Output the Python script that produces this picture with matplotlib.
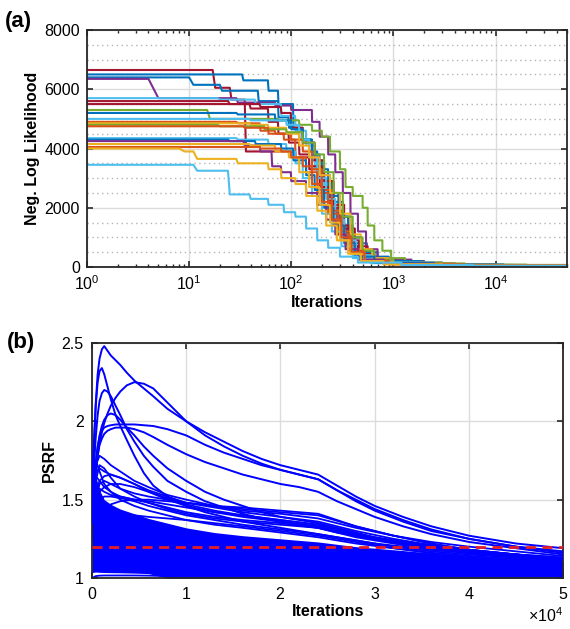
import matplotlib
matplotlib.use("Agg")
import matplotlib.pyplot as plt
from matplotlib.ticker import LogLocator, MultipleLocator, ScalarFormatter, NullFormatter

plt.rcParams['font.family'] = ['Liberation Sans', 'DejaVu Sans']
plt.rcParams['mathtext.fontset'] = 'custom'
plt.rcParams['mathtext.rm'] = 'Liberation Sans'
plt.rcParams['mathtext.it'] = 'Liberation Sans:italic'
plt.rcParams['mathtext.bf'] = 'Liberation Sans:bold'

# MATLAB default colour order
BLUE = '#0072BD'
ORANGE = '#D95319'
YELLOW = '#EDB120'
PURPLE = '#7E2F8E'
GREEN = '#77AC30'
LBLUE = '#4DBEEE'
DRED = '#A2142F'

# ---------------- panel (a): negative log likelihood per chain ----------------
# (iteration at which value changes, new value)
chain_colors = [DRED, BLUE, BLUE, PURPLE, LBLUE, DRED, DRED, GREEN, BLUE, LBLUE,
                ORANGE, YELLOW, GREEN, ORANGE, LBLUE, BLUE, PURPLE, YELLOW, ORANGE,
                YELLOW, LBLUE]
chain_steps = [
    [(1, 6650), (18, 6050), (26, 5650), (36, 3900), (110, 3700), (150, 3300), (190, 2700), (230, 2000),
     (280, 1300), (350, 700), (450, 350), (700, 150), (2000, 80), (10000, 50)],
    [(1, 6500), (34, 6300), (60, 5950), (75, 5500), (105, 4700), (130, 4300), (160, 3600), (200, 2900),
     (250, 2200), (320, 1400), (400, 800), (550, 350), (900, 150), (3000, 70), (15000, 40)],
    [(1, 6400), (11, 6150), (21, 5950), (48, 5600), (75, 5050), (95, 4700), (120, 4300), (150, 3900),
     (180, 3300), (230, 2500), (290, 1700), (360, 1000), (480, 500), (700, 200), (2000, 80), (12000, 45)],
    [(1, 6350), (5, 5700), (30, 5550), (70, 5450), (100, 5300), (160, 4900), (190, 4400),
     (230, 3800), (270, 3200), (320, 2500), (380, 1800), (450, 1200), (540, 600), (700, 250), (1500, 100),
     (8000, 50)],
    [(1, 5700), (20, 5650), (45, 5500), (80, 5100), (110, 4600), (140, 4100), (170, 3300), (210, 2600),
     (260, 1900), (320, 1100), (420, 500), (600, 200), (1500, 90), (9000, 45)],
    [(1, 5600), (25, 5500), (40, 5350), (60, 4900), (75, 4500), (95, 4200), (120, 3800), (150, 3400),
     (200, 2700), (240, 2000), (300, 1400), (370, 900), (460, 450), (650, 180), (2000, 80), (10000, 40)],
    [(1, 5500), (50, 5400), (80, 5200), (100, 4700), (130, 4200), (170, 3600), (210, 2900), (260, 2100),
     (330, 1300), (420, 700), (560, 300), (900, 120), (4000, 60)],
    [(1, 5300), (16, 5000), (75, 4950), (120, 4800), (160, 4600), (200, 4400), (240, 3900), (300, 3300),
     (340, 2700), (400, 2400), (500, 2000), (560, 1400), (650, 900), (780, 550), (950, 300), (1300, 150),
     (3000, 80), (20000, 40)],
    [(1, 5200), (30, 5150), (70, 4950), (100, 4650), (130, 4300), (160, 3800), (190, 3100), (240, 2400),
     (300, 1700), (380, 1000), (480, 500), (650, 200), (1800, 80), (12000, 40)],
    [(1, 5000), (40, 4950), (90, 4800), (120, 4300), (150, 3700), (180, 3000), (220, 2300), (270, 1600),
     (330, 900), (430, 400), (650, 150), (2500, 70)],
    [(1, 4900), (30, 4850), (50, 4600), (70, 4500), (100, 4300), (130, 3900), (160, 3300), (200, 2600),
     (250, 1900), (310, 1200), (390, 600), (520, 250), (800, 110), (3000, 55)],
    [(1, 4850), (40, 4800), (60, 4700), (90, 4500), (120, 4100), (150, 3700), (190, 3100), (240, 2500),
     (300, 1800), (380, 1100), (480, 600), (620, 300), (900, 140), (3000, 70)],
    [(1, 4800), (20, 4750), (55, 4650), (90, 4550), (130, 4200), (170, 3800), (210, 3200), (260, 2500),
     (320, 1700), (400, 1000), (500, 550), (650, 250), (1000, 120), (5000, 50)],
    [(1, 4750), (35, 4700), (60, 4500), (85, 4300), (110, 3700), (140, 3200), (180, 2500), (230, 1800),
     (290, 1100), (370, 550), (500, 220), (900, 100), (4000, 45)],
    [(1, 4350), (30, 4300), (60, 4150), (90, 3900), (110, 3500), (130, 3000), (160, 2400), (200, 1800),
     (250, 1200), (310, 700), (400, 300), (600, 130), (2000, 60)],
    [(1, 4300), (25, 4250), (45, 4150), (80, 4000), (105, 3600), (140, 3100), (170, 2600), (210, 2000),
     (260, 1400), (330, 800), (420, 350), (650, 140), (2500, 60)],
    [(1, 4250), (35, 4100), (50, 3900), (65, 3400), (80, 3200), (100, 2900), (140, 2500), (180, 2100),
     (220, 1600), (270, 1100), (340, 600), (450, 250), (800, 110), (3000, 50)],
    [(1, 4150), (40, 4100), (70, 3900), (95, 3700), (120, 3200), (150, 2700), (190, 2100), (240, 1500),
     (300, 900), (380, 450), (520, 180), (1000, 90), (4000, 45)],
    [(1, 4050), (50, 4000), (80, 3900), (100, 3700), (130, 3400), (160, 2800), (200, 2200), (250, 1600),
     (310, 1000), (390, 500), (520, 200), (900, 90), (5000, 40)],
    [(1, 4000), (9, 3900), (12, 3650), (30, 3500), (60, 3300), (80, 3000), (110, 2800), (140, 2400),
     (180, 1900), (220, 1400), (280, 900), (360, 450), (480, 200), (800, 90), (3000, 45)],
    [(1, 3450), (12, 3250), (25, 2450), (40, 2300), (60, 2100), (85, 1850), (110, 1700), (140, 1300),
     (180, 900), (230, 650), (300, 350), (450, 150), (1200, 70), (6000, 35)],
]
n_iter = 50000

# ---------------- panel (b): PSRF traces ----------------
top_x = [0, 200, 400, 600, 800, 1050, 1300, 1650, 2000, 2500, 3000, 3700, 4500, 5500, 6500, 8000,
         10000, 12000, 14000, 16000, 18000, 20000, 22000, 24000, 26000, 28000, 30000, 33000, 36000,
         40000, 45000, 50000]
psrf_top = [
    [1.55, 1.85, 2.12, 2.30, 2.40, 2.46, 2.48, 2.45, 2.42, 2.39, 2.36, 2.31, 2.26, 2.21, 2.16, 2.08,
     2.00, 1.93, 1.87, 1.81, 1.76, 1.72, 1.69, 1.66, 1.59, 1.52, 1.46, 1.39, 1.33, 1.27, 1.22, 1.19],
    [1.40, 1.55, 1.68, 1.78, 1.86, 1.93, 1.99, 2.05, 2.10, 2.15, 2.19, 2.23, 2.25, 2.24, 2.21, 2.12,
     2.00, 1.91, 1.84, 1.78, 1.73, 1.69, 1.66, 1.63, 1.56, 1.50, 1.44, 1.37, 1.31, 1.25, 1.20, 1.17],
    [1.50, 1.85, 2.10, 2.25, 2.32, 2.34, 2.30, 2.22, 2.14, 2.04, 1.97, 1.88, 1.78, 1.67, 1.59, 1.52,
     1.46, 1.42, 1.39, 1.36, 1.34, 1.32, 1.30, 1.28, 1.26, 1.24, 1.22, 1.20, 1.18, 1.16, 1.14, 1.12],
    [1.45, 1.70, 1.90, 2.04, 2.13, 2.18, 2.20, 2.19, 2.16, 2.10, 2.04, 1.95, 1.87, 1.78, 1.71, 1.62,
     1.55, 1.49, 1.45, 1.41, 1.38, 1.36, 1.34, 1.32, 1.29, 1.27, 1.25, 1.22, 1.20, 1.17, 1.15, 1.13],
    [1.40, 1.58, 1.72, 1.83, 1.91, 1.97, 2.01, 2.04, 2.05, 2.04, 2.01, 1.96, 1.91, 1.84, 1.78, 1.70,
     1.62, 1.55, 1.50, 1.46, 1.42, 1.39, 1.37, 1.35, 1.32, 1.29, 1.26, 1.23, 1.21, 1.18, 1.15, 1.13],
    [1.40, 1.60, 1.74, 1.84, 1.90, 1.94, 1.96, 1.97, 1.975, 1.98, 1.98, 1.98, 1.98, 1.975, 1.97, 1.95,
     1.91, 1.85, 1.80, 1.76, 1.72, 1.69, 1.66, 1.63, 1.56, 1.49, 1.43, 1.36, 1.30, 1.25, 1.20, 1.16],
    [1.35, 1.55, 1.68, 1.78, 1.85, 1.89, 1.92, 1.94, 1.95, 1.96, 1.96, 1.96, 1.95, 1.93, 1.90, 1.85,
     1.79, 1.74, 1.70, 1.66, 1.63, 1.60, 1.58, 1.55, 1.49, 1.44, 1.39, 1.33, 1.28, 1.23, 1.19, 1.15],
]
psrf_x = [0, 400, 800, 1300, 2000, 3000, 4500, 6000, 8000, 10000, 13000, 16000, 20000, 24000,
          28000, 32000, 36000, 40000, 45000, 50000]
psrf_mid = [
    [1.50, 1.72, 1.78, 1.76, 1.72, 1.68, 1.62, 1.58, 1.53, 1.50, 1.46, 1.43, 1.41, 1.38, 1.32, 1.27, 1.23, 1.20, 1.17, 1.14],
    [1.45, 1.68, 1.70, 1.68, 1.66, 1.64, 1.60, 1.56, 1.52, 1.48, 1.45, 1.42, 1.39, 1.36, 1.30, 1.25, 1.21, 1.18, 1.15, 1.12],
    [1.40, 1.62, 1.72, 1.70, 1.64, 1.57, 1.52, 1.48, 1.44, 1.41, 1.38, 1.36, 1.34, 1.32, 1.27, 1.23, 1.20, 1.17, 1.14, 1.12],
    [1.60, 1.75, 1.68, 1.60, 1.55, 1.52, 1.50, 1.49, 1.47, 1.45, 1.42, 1.40, 1.37, 1.34, 1.28, 1.24, 1.20, 1.17, 1.15, 1.12],
    [1.35, 1.55, 1.62, 1.65, 1.66, 1.64, 1.60, 1.55, 1.50, 1.46, 1.42, 1.39, 1.36, 1.33, 1.27, 1.23, 1.19, 1.16, 1.14, 1.12],
    [1.30, 1.48, 1.55, 1.58, 1.60, 1.60, 1.58, 1.55, 1.51, 1.47, 1.43, 1.40, 1.37, 1.34, 1.28, 1.23, 1.19, 1.16, 1.14, 1.11],
    [1.40, 1.58, 1.57, 1.55, 1.53, 1.52, 1.50, 1.48, 1.45, 1.42, 1.39, 1.37, 1.35, 1.32, 1.26, 1.22, 1.18, 1.16, 1.13, 1.11],
    [1.30, 1.45, 1.50, 1.52, 1.52, 1.51, 1.49, 1.46, 1.43, 1.40, 1.37, 1.34, 1.31, 1.28, 1.24, 1.20, 1.17, 1.15, 1.13, 1.11],
    [1.25, 1.35, 1.40, 1.44, 1.47, 1.49, 1.50, 1.50, 1.49, 1.48, 1.46, 1.44, 1.42, 1.40, 1.33, 1.27, 1.22, 1.18, 1.15, 1.12],
    [1.35, 1.50, 1.47, 1.44, 1.42, 1.41, 1.40, 1.39, 1.38, 1.37, 1.35, 1.33, 1.30, 1.27, 1.23, 1.19, 1.16, 1.14, 1.12, 1.10],
    [1.30, 1.50, 1.60, 1.62, 1.60, 1.57, 1.54, 1.52, 1.50, 1.48, 1.46, 1.45, 1.43, 1.41, 1.33, 1.27, 1.22, 1.18, 1.15, 1.12],
    [1.50, 1.65, 1.62, 1.58, 1.55, 1.50, 1.46, 1.43, 1.40, 1.37, 1.34, 1.32, 1.29, 1.26, 1.22, 1.19, 1.16, 1.14, 1.12, 1.10],
]
# dense bundle of remaining traces: lower and upper edge
band_lo = [1.035, 1.038, 1.036, 1.035, 1.034, 1.033, 1.031, 1.028, 1.0, 1.0, 1.0, 1.0, 1.0, 1.0,
           1.0, 1.0, 1.0, 1.0, 1.0, 1.0]
band_hi = [1.78, 1.65, 1.56, 1.50, 1.47, 1.44, 1.41, 1.38, 1.35, 1.32, 1.29, 1.27, 1.25, 1.23,
           1.20, 1.18, 1.16, 1.14, 1.12, 1.11]
psrf_low = [1.0, 1.012, 1.015, 1.016, 1.016, 1.016, 1.016, 1.015, 1.012, 1.01, 1.008, 1.006, 1.005,
            1.004, 1.003, 1.003, 1.002, 1.002, 1.002, 1.002]
psrf_threshold = 1.2

AX_COL = '#262626'
fig = plt.figure(figsize=(5.70, 6.29), dpi=100)
fig.set_facecolor('white')

ax1 = fig.add_axes([0.1526, 0.5755, 0.8421, 0.3768])
for col, steps in zip(chain_colors, chain_steps):
    xs, ys = [steps[0][0]], [steps[0][1]]
    for it, val in steps[1:]:
        xs += [it - 1 if it > 2 else it * 0.97, it]
        ys += [ys[-1], val]
    xs.append(n_iter)
    ys.append(ys[-1])
    ax1.plot(xs, ys, color=col, lw=1.5)
ax1.set_xscale('log')
ax1.set_xlim(1, n_iter)
ax1.set_ylim(0, 8000)
ax1.set_yticks([0, 2000, 4000, 6000, 8000])
ax1.yaxis.set_minor_locator(MultipleLocator(500))
ax1.xaxis.set_major_locator(LogLocator(base=10, numticks=10))
ax1.xaxis.set_minor_locator(LogLocator(base=10, subs=range(2, 10), numticks=10))
ax1.xaxis.set_minor_formatter(NullFormatter())
ax1.grid(True, which='major', color='#dcdcdc', lw=1.0)
ax1.grid(True, which='minor', axis='y', color='#b4b4b4', lw=1.0, ls=(0, (1, 2.5)))
ax1.set_axisbelow(True)
ax1.tick_params(which='both', direction='in', top=True, right=True, colors=AX_COL,
                labelsize=11.5, labelcolor='black')
ax1.tick_params(which='major', length=4.5, width=1.2, pad=5)
ax1.tick_params(which='minor', axis='x', length=2.5, width=1.0)
ax1.tick_params(which='minor', axis='y', length=0)
ax1.set_xlabel('Iterations', fontsize=11.5, fontweight='bold', labelpad=2)
ax1.set_ylabel('Neg. Log Likelihood', fontsize=11.5, fontweight='bold', labelpad=3)
for s in ax1.spines.values():
    s.set_color(AX_COL)
    s.set_linewidth(1.3)

ax2 = fig.add_axes([0.1614, 0.0811, 0.8266, 0.3736])
ax2.fill_between(psrf_x, band_lo, band_hi, color='#0000FF', lw=0, zorder=2)
ax2.plot(psrf_x, psrf_low, color='#0000FF', lw=1.3, zorder=2)
for tr in psrf_mid:
    ax2.plot(psrf_x, tr, color='#0000FF', lw=1.3, zorder=2)
for tr in psrf_top:
    ax2.plot(top_x, tr, color='#0000FF', lw=1.4, zorder=3)
ax2.axhline(psrf_threshold, color='#E41E26', lw=2.0, dashes=(3.6, 2.4), zorder=4)
ax2.set_xlim(0, 50000)
ax2.set_ylim(1, 2.5)
ax2.set_xticks([0, 10000, 20000, 30000, 40000, 50000])
ax2.set_yticks([1, 1.5, 2, 2.5])
ax2.set_yticklabels(['1', '1.5', '2', '2.5'])
fmt = ScalarFormatter(useMathText=True)
fmt.set_powerlimits((-3, 4))
ax2.xaxis.set_major_formatter(fmt)
ax2.xaxis.get_offset_text().set_fontsize(11.5)
ax2.grid(True, color='#dcdcdc', lw=1.0)
ax2.set_axisbelow(True)
ax2.tick_params(which='both', direction='in', top=True, right=True, colors=AX_COL,
                labelsize=11.5, labelcolor='black', length=4.5, width=1.2, pad=6)
ax2.set_xlabel('Iterations', fontsize=11.5, fontweight='bold', labelpad=1)
ax2.set_ylabel('PSRF', fontsize=11.5, fontweight='bold', labelpad=3)
for s in ax2.spines.values():
    s.set_color(AX_COL)
    s.set_linewidth(1.3)

fig.text(0.009, 0.983, '(a)', fontsize=16, fontweight='bold', va='top', ha='left')
fig.text(0.012, 0.472, '(b)', fontsize=16, fontweight='bold', va='top', ha='left')

fig.savefig('out.png', dpi=100, facecolor='white')
